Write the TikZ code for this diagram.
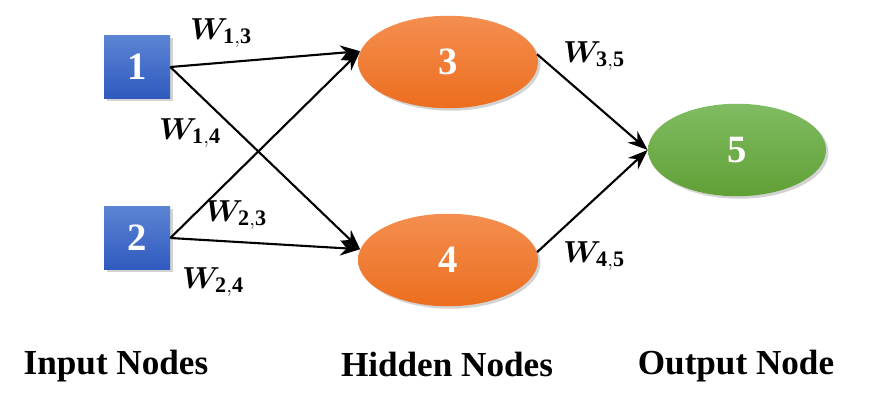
\documentclass[tikz,border=0pt]{standalone}
\usepackage{fontspec, amsmath, bm}
\setmainfont{Liberation Serif}
\usetikzlibrary{arrows.meta, shapes.geometric, shadows}

\definecolor{boxtop}{RGB}{92,132,212}
\definecolor{boxbot}{RGB}{47,90,190}
\definecolor{orgtop}{RGB}{244,142,80}
\definecolor{orgbot}{RGB}{236,110,30}
\definecolor{grntop}{RGB}{128,188,98}
\definecolor{grnbot}{RGB}{96,160,54}

\begin{document}
\begin{tikzpicture}
\useasboundingbox (0,0) rectangle (17.46,8.3);

\begin{scope}[every node/.style={text=white,font=\fontsize{22}{26}\selectfont\bfseries,
                                 drop shadow={opacity=0.35,shadow xshift=0.5mm,shadow yshift=-0.5mm}}]
    \node[rectangle,minimum width=1.32cm,minimum height=1.26cm,top color=boxtop,bottom color=boxbot] (N1) at (2.74,6.96) {1};
    \node[rectangle,minimum width=1.32cm,minimum height=1.26cm,top color=boxtop,bottom color=boxbot] (N2) at (2.74,3.54) {2};
    \node[ellipse,inner sep=0pt,minimum width=3.6cm,minimum height=1.85cm,top color=orgtop,bottom color=orgbot] (N3) at (8.96,7.06) {3};
    \node[ellipse,inner sep=0pt,minimum width=3.6cm,minimum height=1.85cm,top color=orgtop,bottom color=orgbot] (N4) at (8.96,3.10) {4};
    \node[ellipse,inner sep=0pt,minimum width=3.56cm,minimum height=1.85cm,top color=grntop,bottom color=grnbot] (N5) at (14.74,5.30) {5};
\end{scope}

\begin{scope}[>={Stealth[black,length=4mm,width=3mm]},
              every edge/.style={draw=black,line width=1.2pt}]
    \path [->] (N1.east) edge (N3.173);
    \path [->] (N1.east) edge (N4.173);
    \path [->] (N2.east) edge (N3.173);
    \path [->] (N2.east) edge (N4.173);
    \path [->] (N3.5) edge (N5.west);
    \path [->] (N4.5) edge (N5.west);
\end{scope}

\begin{scope}[every node/.style={font=\fontsize{18}{21}\selectfont}]
    \node (W13) at (4.42,7.64) {$\bm{W}_{\mathbf{1,3}}$};
    \node (W14) at (3.80,5.64) {$\bm{W}_{\mathbf{1,4}}$};
    \node (W23) at (4.72,4.00) {$\bm{W}_{\mathbf{2,3}}$};
    \node (W24) at (4.26,2.66) {$\bm{W}_{\mathbf{2,4}}$};
    \node (W35) at (11.88,7.18) {$\bm{W}_{\mathbf{3,5}}$};
    \node (W45) at (11.88,3.18) {$\bm{W}_{\mathbf{4,5}}$};
\end{scope}

\begin{scope}[every node/.style={font=\fontsize{20}{24}\selectfont\bfseries}]
    \node (in) at (2.32,0.98) {Input Nodes};
    \node (hid) at (8.94,1.02) {Hidden Nodes};
    \node (out) at (14.72,0.98) {Output Node};
\end{scope}
\end{tikzpicture}
\end{document}
